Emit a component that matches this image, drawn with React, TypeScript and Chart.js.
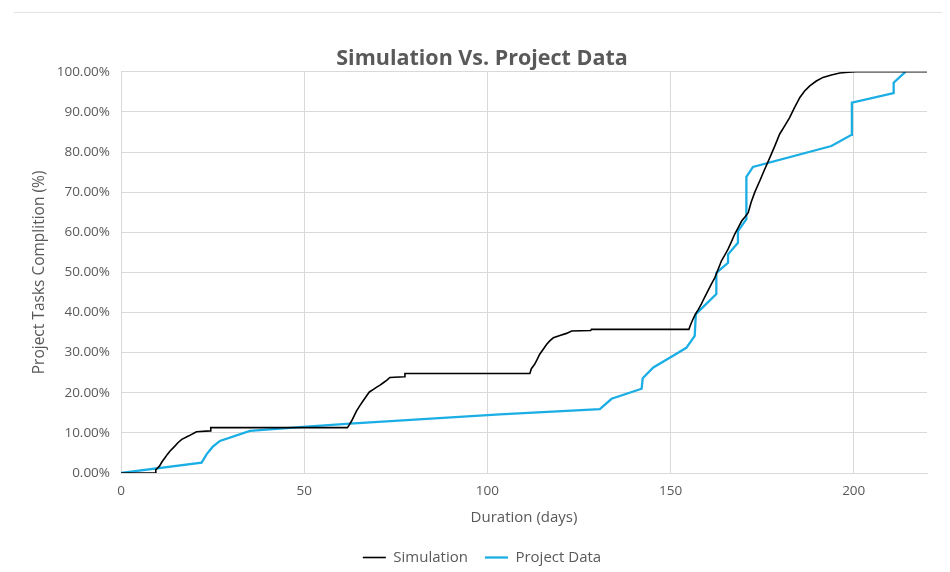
import { useEffect, useRef } from "react";
import { Chart, registerables } from "chart.js";

Chart.register(...registerables);

const simDays = [0, 9.3, 9.5, 10.5, 11.2, 12.0, 12.7, 13.4, 14.7, 15.6, 16.6, 18.4, 20.6, 24.3, 24.5, 61.8, 62.3, 62.9, 63.6, 64.3, 65.2, 66.1, 67.0, 67.8, 68.8, 69.8, 70.7, 71.6, 72.5, 73.4, 77.3, 77.5, 111.6, 112.0, 112.9, 113.6, 114.3, 115.2, 116.2, 117.1, 118.0, 119.8, 121.6, 123.0, 128.2, 128.4, 155.0, 155.5, 156.2, 156.8, 157.6, 158.4, 159.3, 160.2, 161.1, 162.1, 163.0, 163.9, 164.8, 165.7, 166.6, 167.5, 168.5, 169.4, 170.3, 171.2, 172.0, 173.0, 174.4, 175.7, 177.1, 178.5, 179.8, 181.2, 182.5, 183.9, 185.3, 186.6, 188.0, 189.8, 191.6, 193.9, 196.2, 198.5, 200.7, 220];
const simPct = [0, 0, 0.8, 1.7, 2.8, 3.8, 4.7, 5.5, 6.7, 7.6, 8.4, 9.2, 10.3, 10.5, 11.3, 11.3, 12.0, 12.9, 14.2, 15.5, 16.8, 18.0, 19.2, 20.2, 20.8, 21.4, 21.9, 22.5, 23.1, 23.8, 24.0, 24.8, 24.8, 26.0, 27.1, 28.3, 29.6, 30.8, 32.1, 33.0, 33.7, 34.3, 34.8, 35.4, 35.5, 35.8, 35.8, 37.0, 38.5, 39.6, 40.8, 42.1, 43.8, 45.4, 47.0, 48.7, 50.8, 52.9, 54.3, 55.8, 57.6, 59.5, 61.2, 62.8, 63.8, 64.9, 67.5, 70.0, 72.9, 75.7, 78.6, 81.6, 84.5, 86.6, 88.6, 91.2, 93.6, 95.2, 96.5, 97.7, 98.6, 99.2, 99.7, 99.9, 100, 100];

const projDays = [0, 22.0, 23.4, 25.0, 27.0, 35.2, 49.7, 62.5, 103.4, 130.7, 133.9, 142.1, 142.4, 145.3, 150.7, 154.3, 156.6, 156.9, 162.5, 162.5, 165.7, 165.7, 168.4, 168.4, 170.7, 170.7, 172.5, 193.9, 199.4, 199.5, 210.9, 210.9, 214.1];
const projPct = [0, 2.6, 4.7, 6.5, 8.0, 10.5, 11.5, 12.3, 14.6, 15.9, 18.5, 21.0, 23.6, 26.3, 29.2, 31.2, 34.2, 39.6, 44.6, 49.9, 52.4, 54.5, 57.4, 60.3, 63.3, 73.8, 76.3, 81.5, 84.3, 92.3, 94.7, 97.3, 100];

const xTicks = [0, 50, 100, 150, 200];
const seriesNames = ["Simulation", "Project Data"];

const FONT = '"Open Sans", sans-serif';
const TEXT = "#595959";
const GRID = "#d9d9d9";

const topLine = {
  id: "topLine",
  beforeDraw(chart: any) {
    const ctx = chart.ctx;
    ctx.save();
    ctx.strokeStyle = "#e3e3e3";
    ctx.lineWidth = 1;
    ctx.beginPath();
    ctx.moveTo(6, 4.5);
    ctx.lineTo(chart.width, 4.5);
    ctx.stroke();
    ctx.restore();
  },
};

export default function App() {
  const ref = useRef<HTMLCanvasElement | null>(null);
  useEffect(() => {
    if (!ref.current) return;
    const chart = new Chart(ref.current, {
      type: "line",
      data: {
        datasets: [
          {
            label: seriesNames[0],
            data: simDays.map((d, i) => ({ x: d, y: simPct[i] })),
            borderColor: "#000000",
            backgroundColor: "#000000",
            borderWidth: 1.6,
            pointRadius: 0,
            tension: 0,
            fill: false,
          },
          {
            label: seriesNames[1],
            data: projDays.map((d, i) => ({ x: d, y: projPct[i] })),
            borderColor: "#1aaee5",
            backgroundColor: "#1aaee5",
            borderWidth: 2.3,
            pointRadius: 0,
            tension: 0,
            fill: false,
          },
        ],
      },
      options: {
        animation: false,
        responsive: true,
        maintainAspectRatio: false,
        layout: { padding: { left: 29, right: 15, top: 0, bottom: -3 } },
        plugins: {
          tooltip: { enabled: false },
          title: {
            display: true,
            text: "Simulation Vs. Project Data",
            color: TEXT,
            font: { family: FONT, size: 21.5, weight: "bold" },
            padding: { top: 38, bottom: 0 },
          },
          legend: {
            position: "bottom",
            labels: {
              color: TEXT,
              font: { family: FONT, size: 15 },
              usePointStyle: true,
              pointStyle: "line",
              pointStyleWidth: 23,
              padding: 17,
            },
          },
        },
        scales: {
          x: {
            type: "linear",
            min: 0,
            max: 220,
            afterBuildTicks: (scale: any) => {
              scale.ticks = xTicks.map((v) => ({ value: v }));
            },
            afterFit: (scale: any) => {
              scale.height = 60;
            },
            ticks: {
              color: TEXT,
              font: { family: FONT, size: 13.5 },
              padding: 10,
              maxRotation: 0,
            },
            grid: { color: GRID, drawTicks: false, tickLength: 0 },
            border: { display: true, color: GRID },
            title: {
              display: true,
              text: "Duration (days)",
              color: TEXT,
              font: { family: FONT, size: 15 },
              padding: { top: 4, bottom: 6 },
            },
          },
          y: {
            min: 0,
            max: 100,
            afterFit: (scale: any) => {
              scale.width = 84;
            },
            ticks: {
              stepSize: 10,
              color: TEXT,
              font: { family: FONT, size: 13.5 },
              padding: 11,
              callback: (v: any) => Number(v).toFixed(2) + "%",
            },
            grid: { color: GRID, drawTicks: false, tickLength: 0 },
            border: { display: false },
            title: {
              display: true,
              text: "Project Tasks Complition (%)",
              color: TEXT,
              font: { family: FONT, size: 15.5 },
              padding: { top: -6.3, bottom: 4 },
            },
          },
        },
      },
      plugins: [topLine],
    });
    return () => chart.destroy();
  }, []);
  return (
    <div style={{ position: "absolute", left: 8, top: 8, width: 934, height: 564 }}>
      <canvas ref={ref} />
    </div>
  );
}
